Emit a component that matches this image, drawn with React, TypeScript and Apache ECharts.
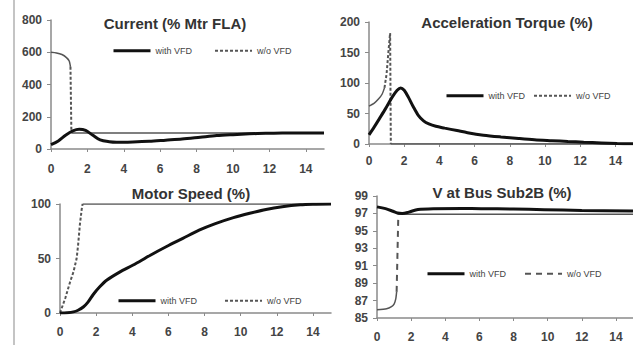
import React, { useEffect, useRef } from "react";
import * as echarts from "echarts";

// ---- Data (x = time, y = value) ----
const xTicks = [0, 2, 4, 6, 8, 10, 12, 14];

const currentWith: number[][] = [
  [0, 27], [0.4, 50], [0.8, 85], [1.2, 112], [1.55, 122], [1.9, 115], [2.3, 85], [2.7, 56],
  [3.2, 45], [3.6, 42], [4.5, 44], [5.4, 48], [6.3, 55], [7.2, 62], [8.2, 73], [9.1, 83],
  [10, 89], [10.9, 94], [11.8, 97], [12.7, 98.5], [13.8, 99.5], [15, 100],
];
const currentWithout: number[][] = [
  [0, 600], [0.3, 596], [0.6, 586], [0.85, 567], [1.0, 546], [1.07, 510], [1.12, 100], [1.5, 100], [15, 100],
];

const torqueWith: number[][] = [
  [0, 15], [0.3, 28], [0.6, 42], [0.94, 58], [1.3, 76], [1.6, 88], [1.8, 92], [2.0, 88], [2.25, 76],
  [2.5, 62], [2.8, 47], [3.1, 38], [3.4, 33], [3.8, 29], [4.3, 26], [5, 22], [5.6, 18.5], [6.5, 14.5],
  [7.5, 11.5], [8.5, 9], [9.4, 7], [10.4, 5.5], [11.3, 4.2], [12.2, 3], [13.2, 1.8], [14.1, 0.8], [15, 0.3],
];
const torqueWithout: number[][] = [
  [0, 62], [0.3, 67], [0.55, 74], [0.75, 82], [0.88, 92], [1.0, 115], [1.1, 150], [1.2, 182], [1.24, 0], [15, 0],
];

const speedWith: number[][] = [
  [0, 0], [0.4, 0.3], [0.74, 1], [1.0, 2.5], [1.29, 5.5], [1.55, 10], [1.84, 17], [2.2, 24], [2.58, 30],
  [3.3, 37.5], [4.05, 44], [5, 53], [5.9, 61], [6.8, 68.5], [7.7, 76], [8.6, 82], [9.6, 87.5],
  [10.5, 91.5], [11.4, 95], [12.3, 97.5], [13.3, 99.3], [14, 99.8], [15, 100],
];
const speedWithout: number[][] = [
  [0, 0], [0.3, 14], [0.55, 28], [0.75, 38], [0.92, 50], [1.0, 62], [1.1, 81], [1.2, 95], [1.25, 100], [15, 100],
];

const voltWith: number[][] = [
  [0, 97.75], [0.5, 97.55], [0.93, 97.25], [1.2, 97.05], [1.48, 97.0], [1.86, 97.15], [2.4, 97.45],
  [3.3, 97.55], [5, 97.57], [6.1, 97.55], [8, 97.5], [9.8, 97.43], [12, 97.35], [15, 97.28],
];
const voltWithout: number[][] = [
  [0, 85.95], [0.56, 86.05], [0.85, 86.3], [1.0, 86.6], [1.1, 87.2], [1.15, 88], [1.25, 96.9], [15, 96.9],
];
const voltBase = 85;

const titles = ["Current (% Mtr FLA)", "Acceleration Torque (%)", "Motor Speed (%)", "V at Bus Sub2B (%)"];
const seriesNames = ["with VFD", "w/o VFD"];

// index ranges of the w/o VFD series drawn dashed (the fast transitions)
const dashRanges = [[5, 6], [4, 8], [0, 8], [5, 6]];

const FONT = "Liberation Sans";

export default function App() {
  const ref = useRef<HTMLDivElement>(null);
  useEffect(() => {
    if (!ref.current) return;
    const chart = echarts.init(ref.current, null, { renderer: "svg" });

    const panels = [
      { w: currentWith, wo: currentWithout, off: 0 },
      { w: torqueWith, wo: torqueWithout, off: 0 },
      { w: speedWith, wo: speedWithout, off: 0 },
      { w: voltWith, wo: voltWithout, off: voltBase },
    ];
    const grids = [
      { left: 51, top: 20, width: 273, height: 129 },
      { left: 369, top: 22, width: 266, height: 122 },
      { left: 60, top: 204, width: 271, height: 109 },
      { left: 377, top: 196, width: 269, height: 122 },
    ];
    const yCfg = [
      { min: 0, max: 800, interval: 200 },
      { min: 0, max: 200, interval: 50 },
      { min: 0, max: 100, interval: 50 },
      { min: 0, max: 14, interval: 2 },
    ];
    const xMargins = [14, 11, 13, 13];
    const dashTypes: any[] = [[3, 2], [3, 2], [3, 2], [6, 5]];
    const legendPos = [
      { left: 112, top: 46, gap: 22 },
      { left: 445, top: 91, gap: 8 },
      { left: 117, top: 296, gap: 27 },
      { left: 426, top: 269, gap: 18 },
    ];
    const titlePos = [
      [175, 23], [507, 22], [191, 193], [502, 192],
    ];

    const axisLine = { show: true, lineStyle: { color: "#8a8a8a", width: 1.5 } };
    const labelStyle = { color: "#444", fontSize: 12, fontWeight: "bold" as const, fontFamily: FONT };

    const xAxis = grids.map((_, i) => ({
      type: "value",
      gridIndex: i,
      min: 0,
      max: 15,
      interval: 2,
      axisLine,
      axisTick: { show: true, length: 3, lineStyle: { color: "#8a8a8a" } },
      axisLabel: { ...labelStyle, margin: xMargins[i], showMaxLabel: false },
      splitLine: { show: false },
    }));
    const yAxis = grids.map((_, i) => ({
      type: "value",
      gridIndex: i,
      ...yCfg[i],
      axisLine,
      axisTick: { show: true, length: 4, lineStyle: { color: "#8a8a8a" } },
      axisLabel: {
        ...labelStyle,
        margin: 9,
        formatter: (v: number) => String(v + panels[i].off),
      },
      splitLine: { show: false },
    }));

    const series: any[] = [];
    panels.forEach((p, i) => {
      const [d0, d1] = dashRanges[i];
      series.push({
        name: seriesNames[0],
        type: "line",
        xAxisIndex: i,
        yAxisIndex: i,
        data: p.w.map(([x, y]) => [x, y - p.off]),
        smooth: 0.3,
        showSymbol: false,
        symbol: "none",
        lineStyle: { color: "#111", width: 3 },
        itemStyle: { color: "#111" },
        z: 3,
      });
      // solid (dense) parts of w/o VFD
      const solid: any[] = [];
      p.wo.forEach(([x, y], k) => {
        if (k <= d0 || k >= d1) solid.push([x, y - p.off]);
        if (k === d0 && d1 > d0) solid.push([x, "-"]);
      });
      series.push({
        name: "w/o VFD solid",
        type: "line",
        xAxisIndex: i,
        yAxisIndex: i,
        data: d0 === 0 ? p.wo.slice(d1).map(([x, y]) => [x, y - p.off]) : solid,
        smooth: 0.2,
        showSymbol: false,
        symbol: "none",
        connectNulls: false,
        lineStyle: { color: "#555", width: 1.5 },
        z: 2,
      });
      series.push({
        name: seriesNames[1],
        type: "line",
        xAxisIndex: i,
        yAxisIndex: i,
        data: p.wo.slice(d0, d1 + 1).map(([x, y]) => [x, y - p.off]),
        showSymbol: false,
        symbol: "none",
        lineStyle: { color: "#555", width: 2, type: dashTypes[i] },
        itemStyle: { color: "#555" },
        z: 2,
      });
    });

    const hidden = { color: "rgba(0,0,0,0)", borderWidth: 0, opacity: 0 };
    const legend = legendPos.map((lp, i) => ({
      left: lp.left,
      top: lp.top,
      itemWidth: 37,
      itemHeight: 12,
      itemGap: lp.gap,
      padding: 0,
      selectedMode: false,
      data: [
        { name: seriesNames[0], lineStyle: { color: "#111", width: 3, type: "solid" }, itemStyle: hidden },
        { name: seriesNames[1], lineStyle: { color: "#555", width: 2, type: dashTypes[i] }, itemStyle: hidden },
      ],
      textStyle: { color: "#444", fontSize: 9, fontFamily: FONT },
    }));

    const graphic: any[] = [
      { type: "line", shape: { x1: 14, y1: 0, x2: 14, y2: 345 }, style: { stroke: "#c4c4c4", lineWidth: 2 } },
      ...titles.map((t, i) => ({
        type: "text",
        x: titlePos[i][0],
        y: titlePos[i][1],
        style: {
          text: t,
          fill: "#333",
          font: `bold 15px "${FONT}"`,
          textAlign: "center",
          textVerticalAlign: "middle",
        },
      })),
    ];

    chart.setOption({
      animation: false,
      backgroundColor: "#fff",
      grid: grids.map((g) => ({ ...g, containLabel: false })),
      xAxis,
      yAxis,
      series,
      legend,
      graphic,
    });
    return () => chart.dispose();
  }, []);
  return (
    <div
      ref={ref}
      style={{ position: "absolute", left: 0, top: 0, width: 633, height: 345, background: "#fff" }}
    />
  );
}
